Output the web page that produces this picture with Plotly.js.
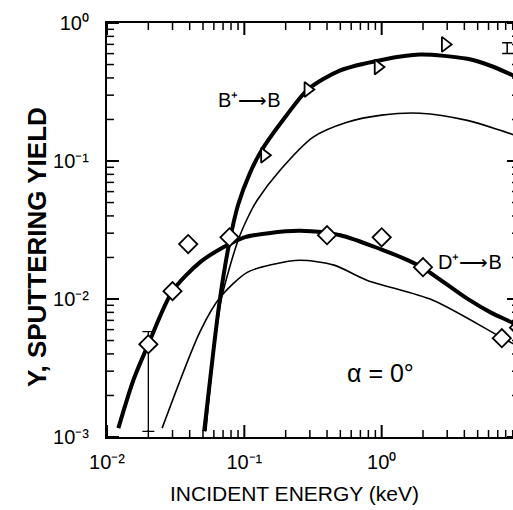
<!DOCTYPE html>
<html>
<head>
<meta charset="utf-8">
<script src="https://cdn.plot.ly/plotly-3.0.1.min.js"></script>
<style>
html, body { margin: 0; padding: 0; overflow: hidden; background: #fff; }
#chart { width: 530px; height: 510px; }
</style>
</head>
<body>
<div id="chart"></div>
<script>
// ---- data (energy in keV, yield) ----
const bThickX = [0.051, 0.06, 0.0667, 0.078, 0.09, 0.11, 0.134, 0.2, 0.29, 0.5, 1.0, 1.9, 4.2, 6.2, 9.0, 10];
const bThickY = [0.0011, 0.0045, 0.0103, 0.026, 0.048, 0.082, 0.12, 0.21, 0.33, 0.454, 0.54, 0.59, 0.55, 0.49, 0.418, 0.40];

const bThinX = [0.0525, 0.06, 0.068, 0.0905, 0.11, 0.124, 0.182, 0.317, 0.56, 1.0, 1.9, 4.2, 7.3, 10];
const bThinY = [0.0011, 0.0042, 0.0100, 0.027, 0.042, 0.052, 0.0857, 0.149, 0.191, 0.215, 0.222, 0.197, 0.167, 0.15];

const dThickX = [0.0121, 0.0156, 0.02, 0.03, 0.0477, 0.0703, 0.1, 0.15, 0.255, 0.5, 1.0, 1.53, 2.0, 4.17, 6.35, 9.0, 10];
const dThickY = [0.00116, 0.0026, 0.0047, 0.0114, 0.0185, 0.0237, 0.028, 0.030, 0.0312, 0.029, 0.0228, 0.0192, 0.0168, 0.0101, 0.0079, 0.0067, 0.0062];

const dThinX = [0.0252, 0.0478, 0.0667, 0.105, 0.16, 0.255, 0.45, 0.78, 2.36, 6.9, 10];
const dThinY = [0.00116, 0.00586, 0.0103, 0.0156, 0.0178, 0.0191, 0.0176, 0.0137, 0.0098, 0.0055, 0.0045];

// B+ -> B measured points (triangles)
const bPtsX = [0.14, 0.29, 0.94, 2.9];
const bPtsY = [0.11, 0.33, 0.48, 0.70];
// error bar seen at the right edge
const bErrX = [8.2];
const bErrY = [0.66];
const bErrV = [0.06];

// D+ -> B measured points (diamonds)
const dPtsX = [0.03, 0.039, 0.078, 0.4, 1.0, 2.0, 7.5, 10];
const dPtsY = [0.0114, 0.025, 0.028, 0.029, 0.028, 0.017, 0.0052, 0.0062];
// the low-energy diamond with its error bars
const dErrPtX = [0.02];
const dErrPtY = [0.0047];
const dErrPlus = [0.0011];
const dErrMinus = [0.0036];
const dErrXPlus = [0.0021];
const dErrXMinus = [0.0020];

const xTickVals = [0.01, 0.1, 1, 10];
const xTickText = ['10⁻²', '10⁻¹', '10⁰', '10¹'];
const yTickVals = [0.001, 0.01, 0.1, 1];
const yTickText = ['10⁻³', '10⁻²', '10⁻¹', '10⁰'];

const xTitle = 'INCIDENT ENERGY (keV)';
const yTitle = 'Y, SPUTTERING YIELD';
const bLabel = 'B⁺⟶B';
const dLabel = 'D⁺⟶B';
const angleLabel = 'α = 0°';

function minorVals(lo, hi) {
  const out = [];
  for (let e = lo; e < hi; e++) {
    for (let m = 2; m <= 9; m++) out.push(m * Math.pow(10, e));
  }
  return out;
}
const xMinor = minorVals(-2, 1);
const yMinor = minorVals(-3, 0);

const FONT = '"Liberation Sans", Arial, Helvetica, sans-serif';
const INK = '#000';

// ---- figure geometry ----
const W = 530, H = 510;
const M = { l: 107, r: 11, t: 23, b: 73 };
const X_RANGE = [-2, 1], Y_RANGE = [-3, 0];
const xPxPerDecade = (W - M.l - M.r) / (X_RANGE[1] - X_RANGE[0]);
const yPxPerDecade = (H - M.t - M.b) / (Y_RANGE[1] - Y_RANGE[0]);
const pctUp = (len, ppd) => (Math.pow(10, len / ppd) - 1) * 100;
const pctDown = (len, ppd) => (1 - Math.pow(10, -len / ppd)) * 100;

// inward tick marks on all four sides, drawn as error-bar strokes at the tick values
const xLo = Math.pow(10, X_RANGE[0]), xHi = Math.pow(10, X_RANGE[1]);
const yLo = Math.pow(10, Y_RANGE[0]), yHi = Math.pow(10, Y_RANGE[1]);
const hidden = { size: 1, color: 'rgba(0,0,0,0)' };
function xTickTrace(vals, len, w, atTop) {
  return { x: vals, y: vals.map(() => atTop ? yHi : yLo), mode: 'markers', marker: hidden, cliponaxis: false, hoverinfo: 'skip',
    error_y: { type: 'percent', symmetric: false, value: atTop ? 0 : pctUp(len, yPxPerDecade),
      valueminus: atTop ? pctDown(len, yPxPerDecade) : 0, width: 0, thickness: w, color: INK } };
}
function yTickTrace(vals, len, w, atRight) {
  return { x: vals.map(() => atRight ? xHi : xLo), y: vals, mode: 'markers', marker: hidden, cliponaxis: false, hoverinfo: 'skip',
    error_x: { type: 'percent', symmetric: false, value: atRight ? 0 : pctUp(len, xPxPerDecade),
      valueminus: atRight ? pctDown(len, xPxPerDecade) : 0, width: 0, thickness: w, color: INK } };
}
const tickTraces = [
  xTickTrace(xTickVals, 12, 2, false), xTickTrace(xTickVals, 12, 2, true),
  xTickTrace(xMinor, 7, 1.5, false), xTickTrace(xMinor, 7, 1.5, true),
  yTickTrace(yTickVals, 12, 2, false), yTickTrace(yTickVals, 12, 2, true),
  yTickTrace(yMinor, 7, 1.5, false), yTickTrace(yMinor, 7, 1.5, true)
];

const traces = [
  { x: bThickX, y: bThickY, mode: 'lines', line: { color: INK, width: 4, shape: 'spline', smoothing: 0.8 }, hoverinfo: 'skip' },
  { x: bThinX, y: bThinY, mode: 'lines', line: { color: INK, width: 1.6, shape: 'spline', smoothing: 0.8 }, hoverinfo: 'skip' },
  { x: dThickX, y: dThickY, mode: 'lines', line: { color: INK, width: 4, shape: 'spline', smoothing: 0.8 }, hoverinfo: 'skip' },
  { x: dThinX, y: dThinY, mode: 'lines', line: { color: INK, width: 1.6, shape: 'spline', smoothing: 0.8 }, hoverinfo: 'skip' },
  { x: bPtsX, y: bPtsY, mode: 'markers',
    marker: { symbol: 'triangle-right', size: 13, color: '#fff', line: { color: INK, width: 1.8 } } },
  { x: bErrX, y: bErrY, mode: 'markers', cliponaxis: false,
    error_y: { type: 'data', array: bErrV, color: INK, thickness: 1.5, width: 5 },
    marker: hidden },
  { x: dPtsX, y: dPtsY, mode: 'markers', cliponaxis: false,
    marker: { symbol: 'diamond', size: 14, color: '#fff', line: { color: INK, width: 1.8 } } },
  { x: dErrPtX, y: dErrPtY, mode: 'markers',
    error_y: { type: 'data', symmetric: false, array: dErrPlus, arrayminus: dErrMinus, color: INK, thickness: 1.3, width: 6 },
    error_x: { type: 'data', symmetric: false, array: dErrXPlus, arrayminus: dErrXMinus, color: INK, thickness: 1.3, width: 3 },
    marker: { symbol: 'diamond', size: 14, color: '#fff', line: { color: INK, width: 1.8 } } }
].concat(tickTraces);

const tickFont = { family: FONT, size: 20, color: INK };

const layout = {
  width: W, height: H,
  margin: M,
  showlegend: false,
  font: { family: FONT, color: INK },
  xaxis: {
    type: 'log', range: X_RANGE,
    showgrid: false, zeroline: false,
    showline: true, linecolor: INK, linewidth: 2, mirror: true,
    ticks: '', tickmode: 'array', tickvals: xTickVals, ticktext: xTickText,
    tickfont: tickFont, ticklabelstandoff: 6
  },
  yaxis: {
    type: 'log', range: Y_RANGE,
    showgrid: false, zeroline: false,
    showline: true, linecolor: INK, linewidth: 2, mirror: true,
    ticks: '', tickmode: 'array', tickvals: yTickVals, ticktext: yTickText,
    tickfont: tickFont, ticklabelstandoff: 12
  },
  annotations: [
    { xref: 'paper', yref: 'paper', x: (294 - M.l) / (W - M.l - M.r), y: -(493 - (H - M.b)) / (H - M.t - M.b), xanchor: 'center', yanchor: 'middle',
      text: xTitle, showarrow: false, font: { family: FONT, size: 21, color: INK } },
    { xref: 'paper', yref: 'paper', x: -(M.l - 37) / (W - M.l - M.r), y: ((H - M.b) - 247) / (H - M.t - M.b), xanchor: 'center', yanchor: 'middle',
      text: yTitle, textangle: -90, showarrow: false, font: { family: FONT, size: 26, color: INK, weight: 'bold' } },
    { x: -0.965, y: -0.56, xref: 'x', yref: 'y', text: bLabel, showarrow: false, font: { family: FONT, size: 20, color: INK } },
    { x: 0.643, y: -1.733, xref: 'x', yref: 'y', text: dLabel, showarrow: false, font: { family: FONT, size: 20, color: INK } },
    { x: -0.012, y: -2.537, xref: 'x', yref: 'y', text: angleLabel, showarrow: false, font: { family: FONT, size: 25, color: INK } }
  ]
};

Plotly.newPlot('chart', traces, layout, { staticPlot: true });
</script>
</body>
</html>
